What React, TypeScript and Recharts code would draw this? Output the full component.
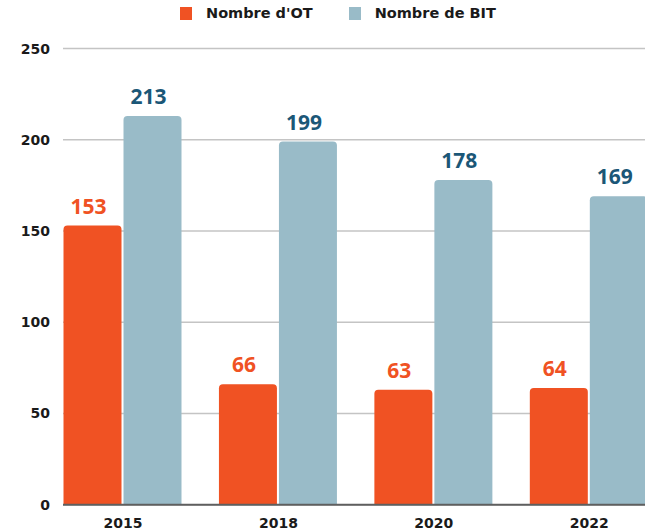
import { BarChart, Bar, XAxis, YAxis, CartesianGrid, Legend, LabelList } from "recharts";

const years = ["2015", "2018", "2020", "2022"];
const nombreOT = [153, 66, 63, 64];
const nombreBIT = [213, 199, 178, 169];
const yTicks = [0, 50, 100, 150, 200, 250];

const data = years.map((year, i) => ({
  year,
  ot: nombreOT[i],
  bit: nombreBIT[i],
}));

const ORANGE = "#f05223";
const BLUE = "#99bbc8";
const TEAL = "#1b5777";
const FONT = "'DejaVu Sans', sans-serif";

const YTick = (props: any) => {
  const { x, y, payload } = props;
  return (
    <text x={x - 5} y={y + 5} textAnchor="end" fontSize={14} fontWeight={700} fontFamily={FONT} fill="#1a1a1a">
      {payload.value}
    </text>
  );
};

const XTick = (props: any) => {
  const { x, y, payload } = props;
  return (
    <text x={x} y={y + 15} textAnchor="middle" fontSize={14} fontWeight={700} fontFamily={FONT} fill="#1a1a1a">
      {payload.value}
    </text>
  );
};

const valueLabel = (color: string) => (props: any) => {
  const { x, y, width, value } = props;
  return (
    <text
      x={x + width / 2 - 4}
      y={y - 12}
      textAnchor="middle"
      fontSize={21}
      fontWeight={700}
      fontFamily="'Open Sans', sans-serif"
      fill={color}
    >
      {value}
    </text>
  );
};

const renderLegend = (props: any) => {
  const { payload } = props;
  return (
    <div style={{ display: "flex", paddingLeft: 180, paddingTop: 5, fontFamily: FONT, fontSize: 14.5, fontWeight: 700, color: "#1a1a1a" }}>
      {payload.map((entry: any) => (
        <div key={entry.value} style={{ display: "flex", alignItems: "center", marginRight: 36 }}>
          <span style={{ width: 12, height: 13, background: entry.color, display: "inline-block", marginRight: 14 }} />
          <span>{entry.value}</span>
        </div>
      ))}
    </div>
  );
};

export default function App() {
  return (
    <div style={{ width: 645, height: 532, overflow: "hidden", background: "#fff" }}>
      <style>{`body { margin: 0; }`}</style>
      <BarChart
        width={645}
        height={532}
        data={data}
        margin={{ top: 48.5, right: 0, bottom: 0, left: 0 }}
        barCategoryGap={18.25}
        barGap={2}
      >
        <CartesianGrid vertical={false} stroke="#c4c4c4" strokeWidth={1.5} />
        <XAxis
          dataKey="year"
          height={27.3}
          tickLine={false}
          axisLine={{ stroke: "#5f5f5f", strokeWidth: 2 }}
          padding={{ left: -17.75, right: -22 }}
          tick={<XTick />}
        />
        <YAxis
          width={63}
          domain={[0, 250]}
          ticks={yTicks}
          axisLine={false}
          tickLine={false}
          tick={<YTick />}
        />
        <Legend
          layout="horizontal"
          verticalAlign="middle"
          align="center"
          wrapperStyle={{ top: 0, left: 0, width: 645 }}
          content={renderLegend}
        />
        <Bar dataKey="ot" name="Nombre d'OT" fill={ORANGE} radius={[4, 4, 0, 0]} isAnimationActive={false}>
          <LabelList dataKey="ot" content={valueLabel(ORANGE)} />
        </Bar>
        <Bar dataKey="bit" name="Nombre de BIT" fill={BLUE} radius={[4, 4, 0, 0]} isAnimationActive={false}>
          <LabelList dataKey="bit" content={valueLabel(TEAL)} />
        </Bar>
      </BarChart>
    </div>
  );
}
